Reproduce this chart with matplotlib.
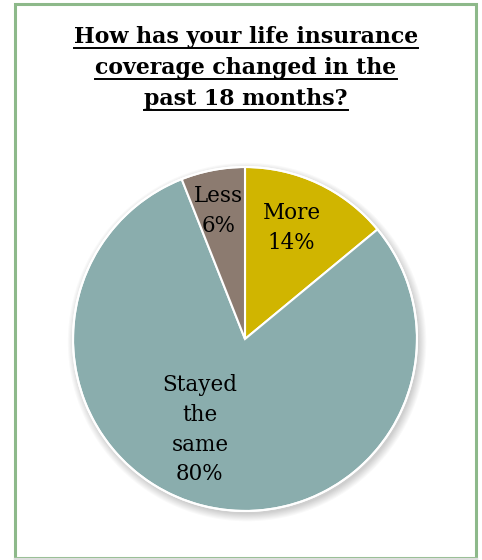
import numpy as np
import matplotlib.pyplot as plt
from matplotlib.patches import Rectangle, Circle

# data
categories = ["More", "Stayed\nthe\nsame", "Less"]
shares = [14, 80, 6]
colors = ["#D0B500", "#8AADAD", "#8C7B70"]
title_lines = ["How has your life insurance", "coverage changed in the", "past 18 months?"]

fig = plt.figure(figsize=(4.82, 5.60), dpi=100)
fig.patch.set_facecolor("white")

# frame around chart (bottom edge is a faint grey in the original)
fig.patches.append(Rectangle((15 / 482, 1 - 558 / 560), 461 / 482, 554 / 560,
                             transform=fig.transFigure, fill=False,
                             edgecolor="#8DB98A", lw=2.2, zorder=0))
fig.add_artist(plt.Line2D([15 / 482, 476 / 482], [1 - 558.5 / 560] * 2,
                          transform=fig.transFigure, color="#DDDDDD", lw=2.4))

# title, underlined line by line
title_y = [37, 68, 99]
for line, y in zip(title_lines, title_y):
    t = fig.text(246 / 482, 1 - y / 560, line, ha="center", va="center",
                 fontsize=15.8, fontweight="bold", family="DejaVu Serif", color="black")
    fig.canvas.draw()
    bb = t.get_window_extent().transformed(fig.transFigure.inverted())
    yl = 1 - (y + 11) / 560
    fig.add_artist(plt.Line2D([bb.x0, bb.x1], [yl, yl], transform=fig.transFigure,
                              color="black", lw=1.4))

ax = fig.add_axes([73 / 482, 49 / 560, 344 / 482, 344 / 560])
ax.set_aspect("equal")

# soft shadow under the pie
for i in range(8):
    ax.add_patch(Circle((0.012, -0.018), 1.0 + 0.006 * i, color="black",
                        alpha=0.025, lw=0, zorder=0, clip_on=False))

wedges, texts = ax.pie(shares, colors=colors, startangle=90, counterclock=False,
                       wedgeprops=dict(edgecolor="white", linewidth=1.5),
                       labels=None)
for w in wedges:
    w.set_zorder(2)
    w.set_clip_on(False)
ax.add_patch(Circle((0, 0), 1.0, fill=False, edgecolor="white", lw=1.5, zorder=3,
                    clip_on=False))

# labels inside the slices
label_r = [0.70, 0.59, 0.76]
label_dang = [2.5, -12, 1]
for w, lab, s, r, da in zip(wedges, categories, shares, label_r, label_dang):
    ang = np.deg2rad((w.theta1 + w.theta2) / 2 + da)
    ax.text(r * np.cos(ang), r * np.sin(ang), f"{lab}\n{s}%", ha="center", va="center",
            fontsize=15.5, family="DejaVu Serif", linespacing=1.45, zorder=4)

ax.set_xlim(-1.0, 1.0)
ax.set_ylim(-1.0, 1.0)
ax.axis("off")

fig.savefig("out.png", dpi=100)
